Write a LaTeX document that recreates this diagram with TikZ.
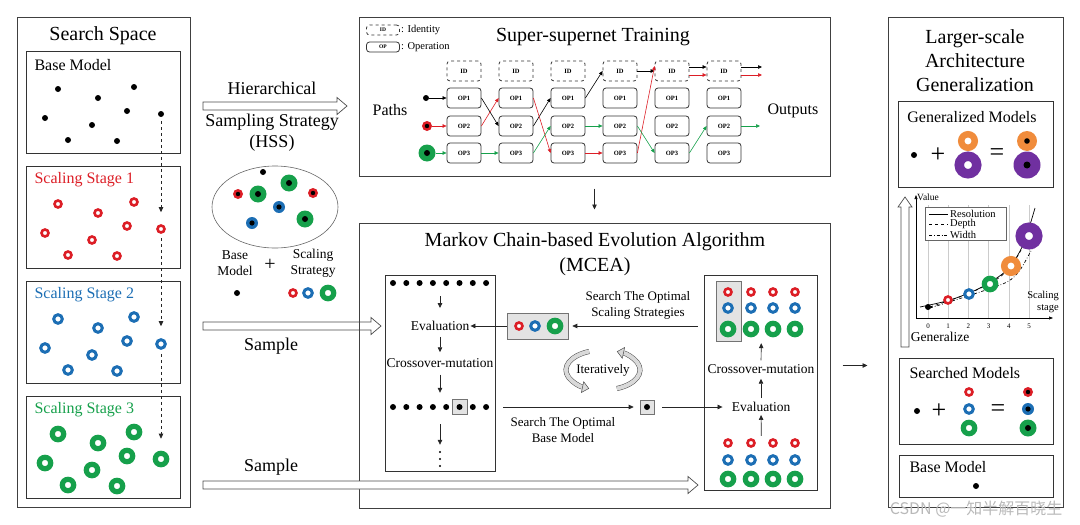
\documentclass[tikz,border=0pt]{standalone}
\usepackage{fontspec}
\setmainfont{Liberation Serif}
\newfontfamily\cjkfont{Noto Sans CJK SC}
\usepackage{xcolor}
\usetikzlibrary{arrows.meta,positioning,shapes.geometric,calc}
\definecolor{myred}{RGB}{220,30,38}
\definecolor{myblue}{RGB}{28,110,180}
\definecolor{mygreen}{RGB}{22,160,75}
\definecolor{myorange}{RGB}{240,140,60}
\definecolor{mypurple}{RGB}{112,48,160}
\tikzset{
  panel/.style={draw=black!75,line width=1pt,inner sep=0pt},
  subpanel/.style={draw=black!80,line width=0.9pt,inner sep=0pt},
  opbox/.style={draw=black!80,rounded corners=3pt,line width=0.8pt,minimum width=34pt,minimum height=20pt,inner sep=0pt,font=\fontsize{6.5}{7}\selectfont\bfseries},
  idbox/.style={opbox,dashed},
  hl/.style={draw=black!55,fill=gray!22,line width=0.6pt,inner sep=0pt},
  bd/.style={circle,fill=black,minimum size=6pt,inner sep=0pt},
  rr/.style={circle,draw=myred,line width=2.6pt,minimum size=7pt,inner sep=0pt,fill=white},
  rb/.style={circle,draw=myblue,line width=3pt,minimum size=8.6pt,inner sep=0pt,fill=white},
  rg/.style={circle,draw=mygreen,line width=5.2pt,minimum size=11.4pt,inner sep=0pt,fill=white},
  ro/.style={circle,draw=myorange,line width=6.5pt,minimum size=13.5pt,inner sep=0pt,fill=white},
  rp/.style={circle,draw=mypurple,line width=9.5pt,minimum size=17.5pt,inner sep=0pt,fill=white},
  cdot/.style={circle,inner sep=0pt,path picture={\fill[black] (path picture bounding box.center) circle (#1);}},
  cr/.style={cdot=2.2pt,fill=myred,minimum size=10pt},
  cb/.style={cdot=2.6pt,fill=myblue,minimum size=12pt},
  cg/.style={cdot=3pt,fill=mygreen,minimum size=17pt},
  co/.style={cdot=2.8pt,fill=myorange,minimum size=20pt},
  cp/.style={cdot=3.5pt,fill=mypurple,minimum size=27pt},
  sarrow/.style={-{Triangle[length=5pt,width=4.5pt]},line width=0.7pt,draw=black!85},
  dasharrow/.style={sarrow,dashed},
  pk/.style={-{Triangle[length=4pt,width=3.5pt]},line width=0.6pt,draw=black},
  pr/.style={pk,draw=myred},
  pg/.style={pk,draw=mygreen},
  hollow/.style={draw=black!70,line width=0.7pt,fill=white,line join=miter},
  iter/.style={draw=black!70,line width=0.5pt,double=gray!30,double distance=4pt,-{Triangle[length=7pt,width=12pt,fill=gray!30]}},
  ttl/.style={font=\fontsize{20}{24}\selectfont,align=center},
  mid/.style={font=\fontsize{18}{21}\selectfont,align=center},
  lbl/.style={font=\fontsize{16}{18}\selectfont},
  sml/.style={font=\fontsize{13.5}{16}\selectfont,align=center,inner sep=1pt},
  tny/.style={font=\fontsize{10.5}{12}\selectfont,inner sep=1pt}
}
% hollow block arrows, horizontal and upward
\newcommand{\hollowR}[2]{\draw[hollow] ($(#1)+(0,-4)$) -- ($(#2)+(-10,-4)$) -- ($(#2)+(-10,-8.5)$) -- (#2) -- ($(#2)+(-10,8.5)$) -- ($(#2)+(-10,4)$) -- ($(#1)+(0,4)$) -- cycle;}
\newcommand{\hollowU}[2]{\draw[hollow] ($(#1)+(-4,0)$) -- ($(#2)+(-4,10)$) -- ($(#2)+(-7,10)$) -- (#2) -- ($(#2)+(7,10)$) -- ($(#2)+(4,10)$) -- ($(#1)+(4,0)$) -- cycle;}

\begin{document}
\begin{tikzpicture}[x=1pt,y=-1pt]
\useasboundingbox (0,0) rectangle (1080,525);

% search space
\node[panel,minimum width=173pt,minimum height=490pt] (space) at (103.5,262) {};
\node[ttl] at (103,36) {Search Space};
\foreach \k/\lab/\col/\st in {0/Base Model/black/bd,1/Scaling Stage 1/myred/rr,2/Scaling Stage 2/myblue/rb,3/Scaling Stage 3/mygreen/rg} {
  \pgfmathsetmacro\ytop{51+115*\k}
  \node[subpanel,minimum width=154pt,minimum height=102pt] (stage\k) at (103,\ytop+51) {};
  \node[lbl,text=\col,anchor=west] at (31,\ytop+14) {\lab};
  \foreach \dx/\dy [count=\i] in {32/38,72/47,108/36,19/67,101/60,66/74,42/89,91/90,135/63}
    \node[\st] (s\k-\i) at (26+\dx,\ytop+\dy) {};
}
\foreach \a/\b in {0/1,1/2,2/3}
  \draw[dasharrow,shorten <=4pt,shorten >=12pt] (s\a-9) -- (s\b-9);

% hierarchical sampling
\node[mid] (hier) at (272,88) {Hierarchical};
\node[mid] (hss) at (272,132.5) {Sampling Strategy\\(HSS)};
\coordinate (hssA) at (203,106);
\coordinate (hssB) at (347,106);
\hollowR{hssA}{hssB}
\node[ellipse,draw=black!60,line width=0.6pt,minimum width=126pt,minimum height=82pt] (pool) at (275,207) {};
\node[bd] at (263,172) {};
\node[cr] at (238,194) {};
\node[cg] at (258,194) {};
\node[cg] at (289,183) {};
\node[cr] at (313,193) {};
\node[cb] at (279,207) {};
\node[cg] at (305,219) {};
\node[cb] at (252,223) {};
\node[sml] (bmtxt) at (235,263.5) {Base\\Model};
\node[font=\fontsize{20}{20}\selectfont] (plus1) at (270,265) {+};
\node[sml] (sstxt) at (313,263.5) {Scaling\\Strategy};
\node[bd] at (237,293) {};
\node[rr] at (293,293) {};
\node[rb] at (308,293) {};
\node[rg] at (328,293) {};

\coordinate (smpA) at (203,326);
\coordinate (smpB) at (381,326);
\hollowR{smpA}{smpB}
\node[mid] at (271,346) {Sample};
\node[mid] at (271,467) {Sample};

% super-supernet
\node[panel,minimum width=471pt,minimum height=159pt] (ssn) at (594.5,96.5) {};
\node[ttl] at (593,37) {Super-supernet Training};
\node[idbox,minimum width=33pt,minimum height=10pt,font=\fontsize{5.5}{6}\selectfont\bfseries] (legid) at (383,30) {ID};
\node[tny,anchor=west] at (legid.east) {: Identity};
\node[opbox,minimum width=33pt,minimum height=10pt,font=\fontsize{5.5}{6}\selectfont\bfseries] (legop) at (383,47) {OP};
\node[tny,anchor=west] at (legop.east) {: Operation};
\foreach \c in {1,...,6} {
  \pgfmathsetmacro\xc{412+52*\c}
  \node[idbox] (id\c) at (\xc,71) {ID};
  \node[opbox] (opa\c) at (\xc,98) {OP1};
  \node[opbox] (opb\c) at (\xc,126) {OP2};
  \node[opbox] (opc\c) at (\xc,153) {OP3};
}
\node[bd] (inb) at (426,98) {};
\node[cr] (inr) at (427,126) {};
\node[cg] (ing) at (427,153) {};
\node[lbl] at (390,110) {Paths};
\node[lbl] at (793,111) {Outputs};
\coordinate (outb) at (762,67);
\coordinate (outr) at (762,75);
\coordinate (outg) at (760,126);

\draw[pk] (inb) -- (opa1);
\draw[pk] (opa1.east) -- (opb2.west);
\draw[pk] (opb2.east) -- (opa3.west);
\draw[pk] (opa3.east) -- (id4.west);
\draw[pk] (id4.east) -- (id5.west);
\draw[pk] ($(id5.east)+(0,-4)$) -- ($(id6.west)+(0,-4)$);
\draw[pk] ($(id6.east)+(0,-4)$) -- (outb);
\draw[pr] (inr) -- (opb1);
\draw[pr] (opb1.east) -- (opa2.west);
\draw[pr] (opa2.east) -- (opc3.west);
\draw[pr] (opc3) -- (opc4);
\draw[pr] (opc4.east) -- ($(id5.west)+(0,-5)$);
\draw[pr] ($(id5.east)+(0,4)$) -- ($(id6.west)+(0,4)$);
\draw[pr] ($(id6.east)+(0,4)$) -- (outr);
\draw[pg] (ing) -- (opc1);
\draw[pg] (opc1) -- (opc2);
\draw[pg] (opc2.east) -- (opb3.west);
\draw[pg] (opb3) -- (opb4);
\draw[pg] (opb4.east) -- (opc5.west);
\draw[pg] (opc5.east) -- (opb6.west);
\draw[pg] (opb6) -- (outg);

% MCEA
\node[panel,minimum width=471pt,minimum height=285pt] (mcea) at (594.5,365.5) {};
\node[font=\fontsize{20}{25}\selectfont,align=center] at (595,254.5) {Markov Chain-based Evolution Algorithm\\(MCEA)};
\draw[sarrow,shorten <=12pt,shorten >=13pt] (ssn) -- (mcea);

\node[subpanel,minimum width=110pt,minimum height=196pt] (lbox) at (440,373) {};
\node[hl,minimum size=15pt] (bestdot) at (459.5,407) {};
\foreach \i in {0,...,7} {
  \node[bd] at (393+13.3*\i,283) {};
  \node[bd] at (393+13.3*\i,407) {};
}
\node[minimum width=100pt,minimum height=8pt,inner sep=0pt] (row1) at (440,283) {};
\node[minimum width=100pt,minimum height=16pt,inner sep=0pt] (row2) at (440,407) {};
\node[sml] (evl) at (440,326) {Evaluation};
\node[sml] (cml) at (440,363) {Crossover-mutation};
\node[minimum width=4pt,minimum height=18pt,inner sep=0pt] (vdt) at (440,459) {};
\foreach \v in {452,459,466}
  \fill (440,\v) circle (1.1pt);
\draw[sarrow,shorten <=9pt,shorten >=12pt] (row1) -- (evl);
\draw[sarrow,shorten <=5pt,shorten >=5pt] (evl) -- (cml);
\draw[sarrow,shorten <=6pt,shorten >=6pt] (cml) -- (row2);
\draw[sarrow,shorten <=9pt,shorten >=5pt] (row2) -- (vdt);

\node[subpanel,minimum width=113pt,minimum height=215pt] (rbox) at (760.5,382.5) {};
\node[hl,minimum width=25pt,minimum height=60pt] (bestcol) at (728.5,311) {};
\foreach \x in {728,751,773,795} {
  \node[rr] at (\x,292) {};
  \node[rb] at (\x,308) {};
  \node[rg] at (\x,329) {};
  \node[rr] at (\x,443) {};
  \node[rb] at (\x,460) {};
  \node[rg] at (\x,479) {};
}
\node[minimum width=90pt,minimum height=66pt,inner sep=0pt] (tgrid) at (761.5,310) {};
\node[minimum width=90pt,minimum height=50pt,inner sep=0pt] (bgrid) at (761.5,461) {};
\node[sml] (revl) at (761,407) {Evaluation};
\node[sml] (rcml) at (761,369) {Crossover-mutation};
\draw[sarrow,shorten >=2pt] (bgrid) -- (revl);
\draw[sarrow,shorten <=3pt,shorten >=4pt] (revl) -- (rcml);
\draw[sarrow,shorten <=3pt] (rcml) -- (tgrid);

\node[hl,minimum width=61pt,minimum height=26pt] (bestss) at (537.5,326) {};
\node[rr] at (519,326) {};
\node[rb] at (535,326) {};
\node[rg] at (555,326) {};
\node[sml,font=\fontsize{13}{16}\selectfont] at (638,305) {Search The Optimal\\Scaling Strategies};
\draw[sarrow,shorten <=6pt,shorten >=4pt] (rbox.west |- bestss.east) -- (bestss.east);
\draw[sarrow] (bestss.west) -- (evl.east);

\node[hl,minimum size=14pt] (bestbm) at (647,407) {};
\node[bd] at (647,407) {};
\node[sml,font=\fontsize{13}{16}\selectfont] at (563,430) {Search The Optimal\\Base Model};
\draw[sarrow,shorten <=8pt,shorten >=6pt] (lbox.east |- bestbm) -- (bestbm);
\draw[sarrow,shorten <=8pt,shorten >=8pt] (bestbm) -- (revl);

\node[sml,font=\fontsize{13}{16}\selectfont] (iterlbl) at (603,370) {Iteratively};
\draw[iter] (iterlbl.center) ++(248:37 and 20) arc[start angle=248,end angle=112,x radius=37,y radius=20];
\draw[iter] (iterlbl.center) ++(68:37 and 20) arc[start angle=68,end angle=-68,x radius=37,y radius=20];

\coordinate (smpC) at (203,485);
\coordinate (smpD) at (698,485);
\hollowR{smpC}{smpD}

% generalization
\node[panel,minimum width=175pt,minimum height=490pt] (lsag) at (975.5,262) {};
\node[ttl] at (975,61) {Larger-scale\\Architecture\\Generalization};
\draw[sarrow,shorten <=12pt,shorten >=20pt] (mcea.east) -- (mcea.east -| lsag.west);

\node[subpanel,minimum width=155pt,minimum height=86pt] (genbox) at (975.5,144) {};
\node[lbl] at (972,117) {Generalized Models};
\node[bd] at (914,155) {};
\node[font=\fontsize{26}{26}\selectfont] at (938,155) {+};
\node[ro] at (968,141) {};
\node[rp] at (968,165) {};
\node[font=\fontsize{26}{26}\selectfont] at (997,155) {=};
\node[co] at (1027,141) {};
\node[cp] at (1027,165) {};

\coordinate (genA) at (905,347);
\coordinate (genB) at (905,197);
\hollowU{genA}{genB}
\node[sml] at (940,337) {Generalize};
\foreach \i in {0,...,5} {
  \draw[gray!40,line width=0.4pt] (928+20.2*\i,318) -- (928+20.2*\i,205);
  \node[font=\fontsize{7}{8}\selectfont] at (928+20.2*\i,326) {\i};
}
\draw[-{Triangle[length=4pt,width=3pt]},line width=0.6pt] (916,318) -- (916,195);
\draw[-{Triangle[length=4pt,width=3pt]},line width=0.6pt] (916,318) -- (1053,318);
\node[font=\fontsize{9.5}{10}\selectfont] at (928,197) {Value};
\node[font=\fontsize{10.5}{12}\selectfont,align=right] at (1043,302) {Scaling\\stage};
\draw[fill=white,draw=black!60,line width=0.5pt] (925,207) rectangle (1006,240);
\draw[line width=0.6pt] (929,214) -- (948,214);
\draw[line width=0.6pt,dashed] (929,224) -- (948,224);
\draw[line width=0.6pt,dash dot] (929,235) -- (948,235);
\node[tny,anchor=west] at (949,214) {Resolution};
\node[tny,anchor=west] at (949,224) {Depth};
\node[tny,anchor=west] at (949,235) {Width};
\draw[line width=0.7pt] plot[smooth] coordinates {(920,307) (950,300) (980,288) (1007,270) (1023,245) (1035,208)};
\draw[line width=0.7pt,dashed] plot[smooth] coordinates {(930,307) (970,293) (1000,277) (1017,257) (1032,228)};
\draw[line width=0.7pt,dash dot] plot[smooth] coordinates {(930,308) (977,293) (1007,282) (1020,270) (1033,247)};
\node[bd] at (928,307) {};
\node[rr] at (948,300) {};
\node[rb] at (969,294) {};
\node[rg] at (990,284) {};
\node[ro] at (1011,266) {};
\node[rp] at (1029,236) {};

\node[subpanel,minimum width=154pt,minimum height=86pt] (srchbox) at (976,401) {};
\node[lbl,anchor=west] at (906,373) {Searched Models};
\node[bd] at (917,411) {};
\node[font=\fontsize{26}{26}\selectfont] at (939,411) {+};
\node[rr] at (969,392) {};
\node[rb] at (969,409) {};
\node[rg] at (969,428) {};
\node[font=\fontsize{26}{26}\selectfont] at (998,411) {=};
\node[cr] at (1028,392) {};
\node[cb] at (1028,409) {};
\node[cg] at (1028,428) {};

\node[subpanel,minimum width=154pt,minimum height=42pt] (basebox) at (976,476) {};
\node[lbl,anchor=west] at (906,467) {Base Model};
\node[bd] at (976,486) {};

\node[anchor=east,text=gray!55,font=\cjkfont\fontsize{16}{16}\selectfont] at (1066,509) {CSDN @一知半解百晓生};
\end{tikzpicture}
\end{document}
